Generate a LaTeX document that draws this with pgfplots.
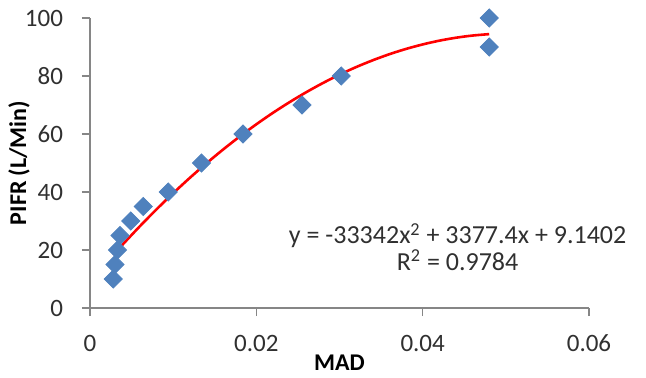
\documentclass[border=0pt]{standalone}
\usepackage{fontspec}
\setmainfont{Carlito}
\usepackage{pgfplots}
\pgfplotsset{compat=1.18}
\definecolor{mblue}{HTML}{4F81BD}
\definecolor{axgray}{HTML}{868686}
\definecolor{txt}{HTML}{303030}
\begin{document}
\begin{tikzpicture}
\begin{axis}[
  name=ax, scale only axis, width=249.5pt, height=145pt,
  xmin=0, xmax=0.06, ymin=0, ymax=100,
  scaled x ticks=false,
  axis x line*=bottom, axis y line*=left,
  axis line style={axgray, line width=0.75pt},
  xtick={0,0.02,0.04,0.06}, xticklabels={0,0.02,0.04,0.06},
  ytick={0,20,40,60,80,100}, yticklabels={0,20,40,60,80,100},
  tick align=outside, major tick length=4pt,
  tick style={axgray, line width=0.75pt},
  tick label style={font=\fontsize{12.5}{14}\selectfont, text=txt},
  xticklabel style={yshift=-6pt},
  yticklabel style={xshift=-6pt},
  xlabel={MAD}, ylabel={PIFR (L/Min)},
  label style={font=\fontsize{12}{14}\selectfont\bfseries, text=black},
  xlabel style={at={(axis description cs:0.5,-0.19)}, anchor=center},
  ylabel style={at={(axis description cs:-0.142,0.5)}, anchor=center},
  clip=false,
]
\addplot[only marks, mark=square*, mark size=3.2pt, mark options={rotate=45, fill=mblue, draw=mblue}] coordinates {
  (0.0028,10) (0.0030,15) (0.0033,20) (0.0036,25) (0.0049,30) (0.0064,35)
  (0.0094,40) (0.0134,50) (0.0184,60) (0.0255,70) (0.0302,80)
  (0.0480,100) (0.0480,90)
};
\addplot[red, line width=1.3pt, smooth] coordinates {
  (0.0028,18.34) (0.004,22.12) (0.006,28.20) (0.008,34.03) (0.010,39.58)
  (0.012,44.87) (0.014,49.89) (0.016,54.64) (0.018,59.13) (0.020,63.35)
  (0.022,67.31) (0.024,70.99) (0.026,74.41) (0.028,77.57) (0.030,80.45)
  (0.032,83.08) (0.034,85.43) (0.036,87.52) (0.038,89.34) (0.040,90.89)
  (0.042,92.18) (0.044,93.20) (0.046,93.95) (0.048,94.44)
};
\node[align=center, font=\fontsize{13}{11}\selectfont, text=txt] at (axis cs:0.0442,21)
  {y = -33342x\textsuperscript{2} + 3377.4x + 9.1402\\R\textsuperscript{2} = 0.9784};
\end{axis}
\pgfresetboundingbox
\path (ax.south west) ++(-45pt,-34.5pt) rectangle ++(323pt,188.5pt);
\end{tikzpicture}
\end{document}
